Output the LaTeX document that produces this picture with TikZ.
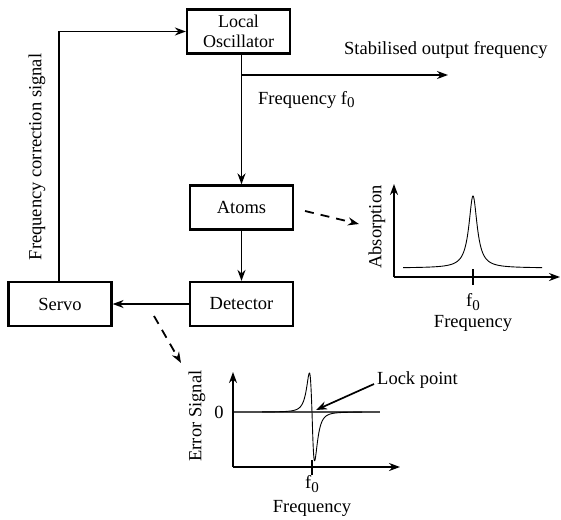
\documentclass[tikz,border=0pt]{standalone}
\usepackage{fontspec}
\setmainfont{Liberation Serif}
\usetikzlibrary{arrows.meta}
\newcommand{\fzero}{f\raisebox{-0.4ex}{\fontsize{15}{15}\selectfont 0}}
\begin{document}
\begin{tikzpicture}[x=1pt,y=-1pt,
  every node/.style={font=\fontsize{18.5}{19}\selectfont, inner sep=0pt},
  blk/.style={draw, line width=2.2pt, minimum width=103pt, minimum height=44pt, align=center},
  arr/.style={line width=1.7pt, -{Stealth[length=11pt,width=8pt]}},
  darr/.style={line width=1.8pt, dash pattern=on 9pt off 7pt, -{Stealth[length=11pt,width=8pt]}},
  axis/.style={line width=2pt, -{Stealth[length=11pt,width=8pt]}},
  curve/.style={line width=0.9pt},
  tick/.style={line width=2pt}]
\useasboundingbox (0,0) rectangle (561,519);

% blocks
\node[blk, font=\fontsize{18}{20.5}\selectfont] (lo) at (238.5,31.5) {Local\\Oscillator};
\node[blk] (atoms) at (241.5,207.5) {Atoms};
\node[blk] (det) at (241.5,304) {Detector};
\node[blk] (servo) at (60,304) {Servo};

% connectors
\draw[arr] (lo.south -| atoms.north) -- (atoms.north);
\draw[arr] (atoms.south) -- (det.north);
\draw[arr] (det.west) -- (servo.east);
\draw[arr] (servo.north -| 59,0) |- (lo.west);
\coordinate (tap) at (242,75);
\coordinate (outend) at (448,75);
\draw[arr] (tap) -- (outend);

% labels
\node[anchor=west] (stab) at (344,50) {Stabilised output frequency};
\node[anchor=west] (ffz) at (258,100) {Frequency \fzero};
\node[rotate=90] (fcs) at (37,157) {Frequency correction signal};

% absorption graph
\coordinate (ao) at (394,277);
\coordinate (ay) at (394,184);
\coordinate (ax) at (560,277);
\draw[curve] plot[domain=403:542, samples=400] (\x, {268 - 72/(1+((\x-473)/5)^2)});
\draw[axis] (ao) -- (ay);
\draw[axis] (ao) -- (ax);
\draw[tick] (473,269) -- (473,285);
\node (af0) at (473,302) {\fzero};
\node (afreq) at (473,323) {Frequency};
\node[rotate=90] (abs) at (377,227) {Absorption};
\coordinate (d1s) at (305,211);
\coordinate (d1e) at (359,224);
\draw[darr] (d1s) -- (d1e);

% error signal graph
\coordinate (eo) at (233,467);
\coordinate (ey) at (233,372);
\coordinate (ex) at (400,467);
\draw[line width=1.2pt, black!70] (233,412) -- (380,412);
\draw[curve] plot[domain=262:312, samples=400] (\x, {412 + 120*((\x-312)/4.5)/(1+((\x-312)/4.5)^2)^2});
\draw[curve] plot[domain=312:362, samples=400] (\x, {412 + 150*((\x-312)/4.5)/(1+((\x-312)/4.5)^2)^2});
\draw[axis] (eo) -- (ey);
\draw[axis] (eo) -- (ex);
\draw[tick] (312,460) -- (312,475);
\node (ef0) at (312,484) {\fzero};
\node (efreq) at (312,508) {Frequency};
\node (zero) at (219,412) {0};
\node[rotate=90] (es) at (197,416) {Error Signal};
\node[anchor=west] (lock) at (377,380) {Lock point};
\coordinate (lp) at (316,410);
\draw[line width=1.7pt, -{Stealth[length=11pt,width=8pt]}] (lock.west) ++(-3,4) -- (lp);
\coordinate (d2s) at (154,316);
\coordinate (d2e) at (181,363);
\draw[darr] (d2s) -- (d2e);
\end{tikzpicture}
\end{document}
